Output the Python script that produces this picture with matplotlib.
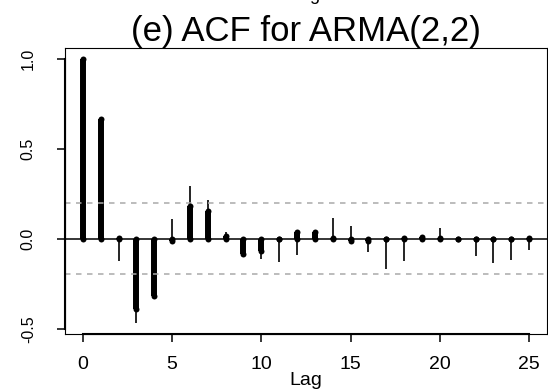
import matplotlib.pyplot as plt
import numpy as np

plt.rcParams['font.family'] = ['Liberation Sans', 'DejaVu Sans']

# theoretical ACF (thick) and sample ACF (thin), lags 0..25
lags = np.arange(26)
acf_theory = [1.0, 0.665, 0.005, -0.39, -0.32, -0.015, 0.18, 0.152, 0.017, -0.083,
              -0.07, -0.003, 0.036, 0.038, 0.005, -0.01, -0.012, -0.002, 0.006, 0.01,
              0.005, -0.002, -0.003, -0.002, 0.001, 0.002]
acf_sample = [1.0, 0.65, -0.126, -0.47, -0.30, 0.111, 0.294, 0.213, 0.04, -0.07,
              -0.113, -0.13, -0.09, 0.03, 0.117, 0.072, -0.075, -0.168, -0.122, 0.005,
              0.061, -0.005, -0.098, -0.137, -0.117, -0.061]
n_obs = 100
ci = 1.96 / np.sqrt(n_obs)
xticks = [0, 5, 10, 15, 20, 25]
yticks = [-0.5, 0.0, 0.5, 1.0]

fig = plt.figure(figsize=(5.48, 3.92), dpi=100)
ax = fig.add_axes([0.1186, 0.148, 0.998 - 0.1186, 0.8776 - 0.148])

thick = 4.3
ax.vlines(lags, 0, acf_sample, color='black', lw=1.2)
ax.vlines(lags, 0, acf_theory, color='black', lw=thick)
# round ends on the thick bars (zero-length segments would vanish otherwise)
ax.scatter(lags, acf_theory, s=thick ** 2, color='black', linewidths=0, zorder=3)
ax.scatter(lags, np.zeros(len(lags)), s=thick ** 2, color='black', linewidths=0, zorder=3)
ax.axhline(0, color='black', lw=1.1)
for v in (ci, -ci):
    ax.axhline(v, color='#aaaaaa', lw=1.1, dashes=(3.6, 3.6))

ax.set_xlim(-1, 26)
ax.set_ylim(-0.529, 1.059)

for s in ax.spines.values():
    s.set_linewidth(0.8)

# R-style axis lines spanning only the tick range
ax.plot([0, 25], [-0.529, -0.529], color='black', lw=1.5, clip_on=False)
ax.plot([-1, -1], [-0.5, 1.0], color='black', lw=1.5, clip_on=False)

ax.set_xticks(xticks)
ax.set_xticklabels([str(t) for t in xticks])
ax.set_yticks(yticks)
ax.set_yticklabels(['-0.5', '0.0', '0.5', '1.0'], rotation=90, va='center')
ax.tick_params(axis='both', length=6, width=1.1, color='black')
ax.tick_params(axis='x', labelsize=14, pad=10)
ax.tick_params(axis='y', labelsize=11.5, pad=15)

ax.set_xlabel('Lag', fontsize=14, labelpad=-1)
ax.set_title('(e) ACF for ARMA(2,2)', fontsize=25, pad=4)

# label of the panel above, cut by the top edge
fig.text(306 / 548, 1.0, 'Lag', fontsize=13, ha='center', va='baseline')

fig.savefig('out.png', dpi=100)
